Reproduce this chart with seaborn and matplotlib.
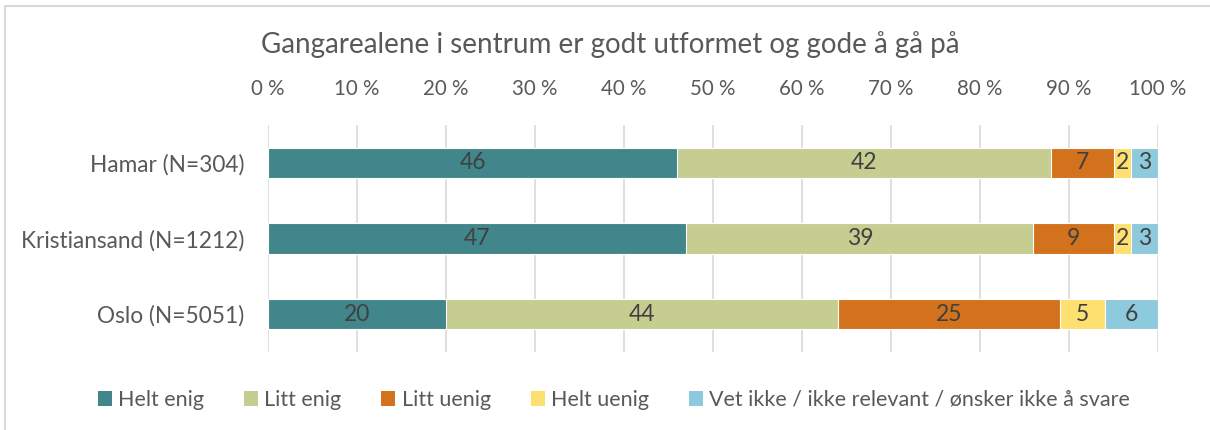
import matplotlib
matplotlib.use("Agg")
import matplotlib.pyplot as plt
from matplotlib.lines import Line2D
from matplotlib.patches import Patch
import numpy as np
import pandas as pd
import seaborn as sns

# Survey data: share of respondents (%) per answer, per city
cities = ["Hamar (N=304)", "Kristiansand (N=1212)", "Oslo (N=5051)"]
answers = ["Helt enig", "Litt enig", "Litt uenig", "Helt uenig",
           "Vet ikke / ikke relevant / ønsker ikke å svare"]
helt_enig = [46, 47, 20]
litt_enig = [42, 39, 44]
litt_uenig = [7, 9, 25]
helt_uenig = [2, 2, 5]
vet_ikke = [3, 3, 6]
ticks = [0, 10, 20, 30, 40, 50, 60, 70, 80, 90, 100]
title = "Gangarealene i sentrum er godt utformet og gode å gå på"

colors = ["#41868b", "#c6cd91", "#d3721c", "#fee070", "#8ecadd"]
text_col = "#595959"
grid_col = "#d9d9d9"

sns.set_theme(style="white")
plt.rcParams["font.family"] = ["Lato", "DejaVu Sans"]

df = pd.DataFrame({"city": cities})
series = [helt_enig, litt_enig, litt_uenig, helt_uenig, vet_ikke]
for name, vals in zip(answers, series):
    df[name] = vals
cum = df[answers].cumsum(axis=1)

fig = plt.figure(figsize=(12.1, 4.3), dpi=100)
ax = fig.add_axes([268 / 1210, 78 / 430, 890 / 1210, 227 / 430])

# Stacked bars: draw cumulative totals from the widest down
for i in range(len(answers) - 1, -1, -1):
    sns.barplot(x=cum[answers[i]], y=df["city"], orient="h", color=colors[i],
                width=0.4, edgecolor="white", linewidth=0.8, ax=ax,
                saturation=1, zorder=3)

# Segment value labels
for r in range(len(cities)):
    left = 0
    for i, name in enumerate(answers):
        v = df.loc[r, name]
        ax.text(left + v / 2, r, f"{v}", ha="center", va="center",
                fontsize=16.5, color="#404040", zorder=5)
        left += v

ax.set_xlim(0, 100)
ax.set_ylim(2.5, -0.5)
ax.set_xticks(ticks)
ax.set_xticklabels([f"{t} %" for t in ticks])
ax.xaxis.tick_top()
ax.tick_params(axis="x", length=0, pad=19, labelsize=14.8, labelcolor=text_col)
ax.tick_params(axis="y", length=0, pad=17, labelsize=16.3, labelcolor=text_col)
ax.set_xlabel("")
ax.set_ylabel("")
for t in ticks:
    ax.axvline(t, color=grid_col, linewidth=1.2, zorder=1)
for s in ax.spines.values():
    s.set_visible(False)

fig.text(610 / 1210, 1 - 45 / 430, title, ha="center", va="center",
         fontsize=20, color=text_col)

handles = [Patch(facecolor=c, edgecolor="none") for c in colors]
fig.legend(handles, answers, loc="center", bbox_to_anchor=(614 / 1210, 1 - 400 / 430),
           ncol=5, frameon=False, fontsize=15.5, labelcolor=text_col,
           handlelength=0.65, handleheight=0.65, handletextpad=0.3,
           columnspacing=1.85)

# Outer chart frame
fig.add_artist(Line2D([5 / 1210, 1], [1 - 6 / 430, 1 - 6 / 430],
                      transform=fig.transFigure, color=grid_col, linewidth=1.5))
fig.add_artist(Line2D([5 / 1210, 5 / 1210], [0, 1 - 6 / 430],
                      transform=fig.transFigure, color=grid_col, linewidth=1.5))

fig.savefig("out.png", dpi=100, facecolor="white")
